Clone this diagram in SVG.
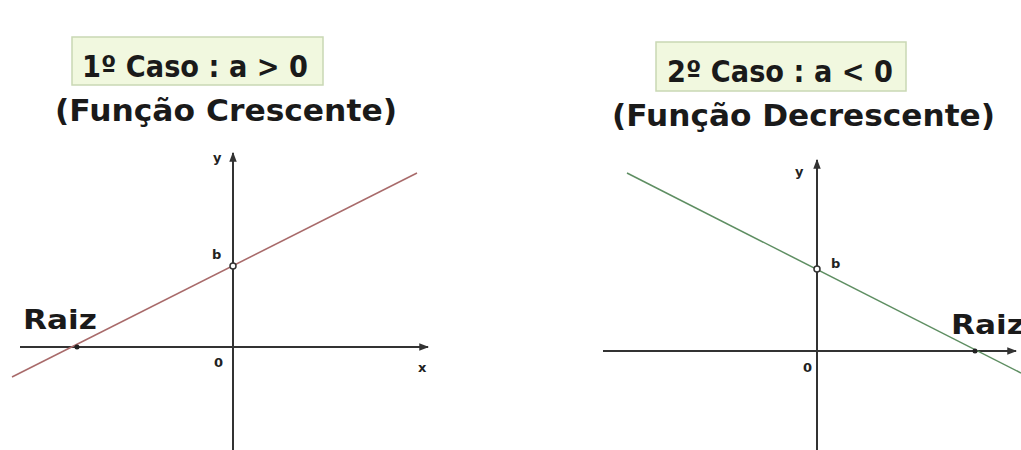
<svg xmlns="http://www.w3.org/2000/svg" width="1021" height="450" viewBox="0 0 1021 450">
<style>
.title{font-family:"DejaVu Sans","Liberation Sans",sans-serif;font-weight:bold;font-size:30px;fill:#1a1a1a}
.sub{font-family:"DejaVu Sans","Liberation Sans",sans-serif;font-weight:bold;font-size:30px;fill:#1a1a1a}
.raiz{font-family:"DejaVu Sans","Liberation Sans",sans-serif;font-weight:bold;font-size:27px;fill:#1a1a1a}
.lbl{font-family:"DejaVu Sans","Liberation Sans",sans-serif;font-weight:bold;font-size:13px;fill:#222}
.box{fill:#f1f8df;stroke:#c9d8b4;stroke-width:1.5}
.axis{stroke:#333;stroke-width:2;fill:none}
.pt{fill:#fff;stroke:#333;stroke-width:1.5}
</style>
<defs>
<marker id="arr" viewBox="0 0 8 8" refX="7" refY="4" markerWidth="5" markerHeight="5" orient="auto">
<path d="M0,1 L8,4 L0,7 z" fill="#333"/>
</marker>
</defs>
<rect width="1021" height="450" fill="#fff"/>
<g id="case1">
<rect class="box" x="72" y="37" width="251" height="48"/>
<text class="title" x="82" y="77" textLength="226" lengthAdjust="spacingAndGlyphs">1º Caso : a &gt; 0</text>
<text class="sub" x="55" y="121" textLength="342" lengthAdjust="spacingAndGlyphs">(Função Crescente)</text>
</g>
<g id="case2">
<rect class="box" x="656" y="42" width="250" height="49"/>
<text class="title" x="667" y="82" textLength="226" lengthAdjust="spacingAndGlyphs">2º Caso : a &lt; 0</text>
<text class="sub" x="612" y="126" textLength="383" lengthAdjust="spacingAndGlyphs">(Função Decrescente)</text>
</g>
<g id="graph1">
<line class="axis" x1="20" y1="347" x2="428" y2="347" marker-end="url(#arr)"/>
<line class="axis" x1="233" y1="450" x2="233" y2="153" marker-end="url(#arr)"/>
<line x1="12" y1="377" x2="417" y2="173" stroke="#a86a6a" stroke-width="1.5"/>
<circle cx="77" cy="347" r="2.5" fill="#222"/>
<circle class="pt" cx="233" cy="266" r="3"/>
<text class="lbl" x="213" y="162">y</text>
<text class="lbl" x="212" y="259">b</text>
<text class="lbl" x="214" y="367">0</text>
<text class="lbl" x="418" y="372">x</text>
<text class="raiz" x="23" y="329" textLength="74" lengthAdjust="spacingAndGlyphs">Raiz</text>
</g>
<g id="graph2">
<line class="axis" x1="603" y1="351" x2="1016" y2="351" marker-end="url(#arr)"/>
<line class="axis" x1="817" y1="450" x2="817" y2="160" marker-end="url(#arr)"/>
<line x1="627" y1="173" x2="1021" y2="373" stroke="#5e8e62" stroke-width="1.5"/>
<circle cx="975" cy="351" r="2.5" fill="#222"/>
<circle class="pt" cx="817" cy="269" r="3"/>
<text class="lbl" x="795" y="176">y</text>
<text class="lbl" x="831" y="268">b</text>
<text class="lbl" x="803" y="372">0</text>
<text class="raiz" x="951" y="334" textLength="74" lengthAdjust="spacingAndGlyphs">Raiz</text>
</g>
</svg>
